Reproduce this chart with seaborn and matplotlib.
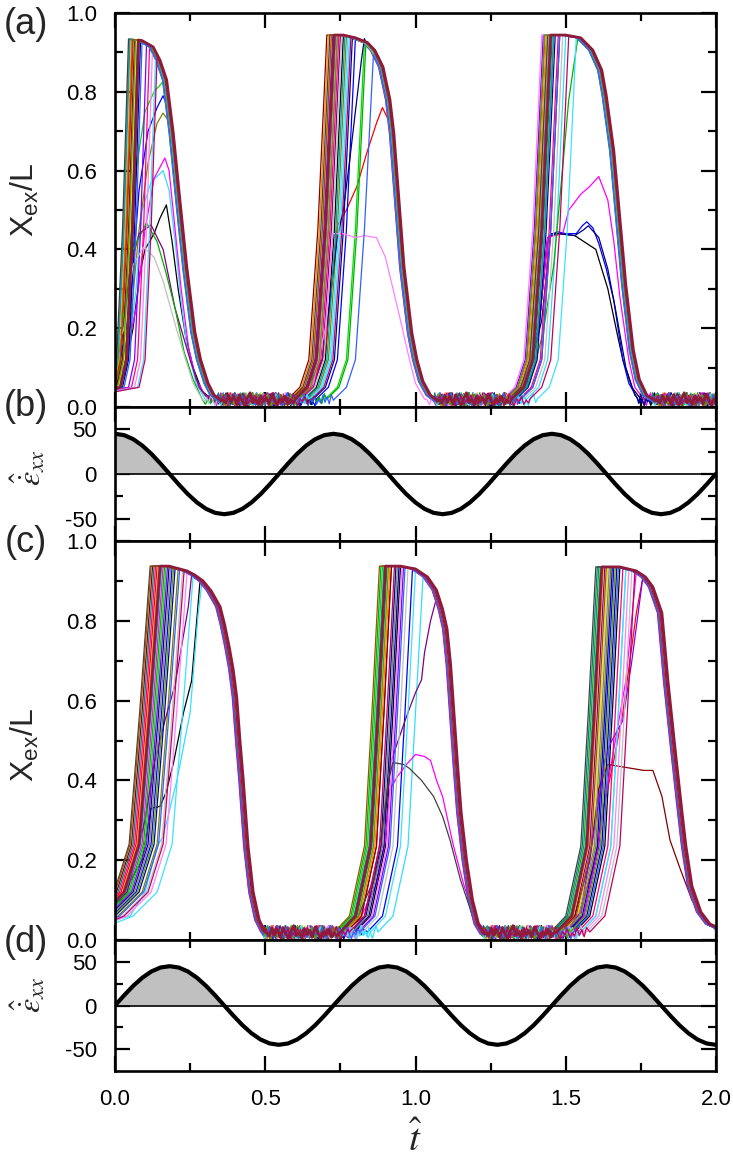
import numpy as np
import pandas as pd
import seaborn as sns
import matplotlib
matplotlib.use("Agg")
from matplotlib import pyplot as plt
from matplotlib import ticker as tkr

sns.set_theme(style="ticks")
plt.rcParams['font.family'] = ['Liberation Sans', 'DejaVu Sans']
plt.rcParams['mathtext.fontset'] = 'custom'
plt.rcParams['mathtext.rm'] = 'Liberation Sans'
plt.rcParams['mathtext.it'] = 'Liberation Sans:italic'
plt.rcParams['axes.unicode_minus'] = False

# ---------------- data ----------------
# line colours (Origin-like cycle), index 27 is the bold top curve
colors = ['#000000', '#FF0000', '#00DD00', '#0000FF', '#33DDFF', '#FF00FF', '#E0E000',
          '#808000', '#000080', '#800080', '#800000', '#00B000', '#008080', '#0000A0',
          '#FF8000', '#8000FF', '#FF0080', '#C0C0C0', '#808080', '#FF80FF', '#404040',
          '#00A0A0', '#40E0FF', '#A05000', '#60A000', '#3060FF', '#C00060', '#8E1B3A']

# panel (a): envelope (plateau + decay) of each cycle
a_env1_t = [0.045, 0.09, 0.127, 0.15, 0.172, 0.194, 0.216, 0.239, 0.266, 0.285, 0.31, 0.33, 0.355]
a_env1_x = [0.935, 0.93, 0.914, 0.88, 0.83, 0.695, 0.525, 0.355, 0.19, 0.12, 0.06, 0.03, 0.015]
a_env2_t = [0.70, 0.76, 0.80, 0.84, 0.865, 0.892, 0.915, 0.928, 0.945, 0.962, 0.988, 1.005, 1.025, 1.05, 1.075]
a_env2_x = [0.944, 0.944, 0.937, 0.925, 0.905, 0.863, 0.78, 0.695, 0.525, 0.355, 0.188, 0.12, 0.065, 0.03, 0.015]
a_env3_t = [1.42, 1.50, 1.55, 1.59, 1.62, 1.635, 1.66, 1.68, 1.70, 1.725, 1.745, 1.77, 1.80]
a_env3_x = [0.944, 0.944, 0.937, 0.906, 0.855, 0.79, 0.65, 0.48, 0.31, 0.145, 0.07, 0.03, 0.015]

# rise shape (offset before reaching plateau, value)
a_rise1_dt = [-0.2, -0.06, -0.04, -0.02, 0.0]
a_rise1_x = [0.03, 0.05, 0.12, 0.45]
a_rise_dt = [-0.13, -0.09, -0.06, -0.03, 0.0]
a_rise_x = [0.02, 0.05, 0.12, 0.45]

# time each curve reaches the plateau, per cycle
a_reach1 = [0.10, 0.06, 0.12, 0.11, 0.10, 0.09, 0.07, 0.12, 0.085, 0.11, 0.065, 0.095, 0.075, 0.08,
            0.055, 0.105, 0.115, 0.13, 0.048, 0.125, 0.045, 0.05, 0.135, 0.058, 0.068, 0.09, 0.14, 0.078]
a_reach2 = [0.76, 0.89, 0.83, 0.80, 0.78, 0.74, 0.72, 0.77, 0.83, 0.75, 0.705, 0.835, 0.73, 0.79,
            0.71, 0.725, 0.745, 0.755, 0.735, 0.70, 0.715, 0.765, 0.775, 0.72, 0.74, 0.86, 0.785, 0.73]
a_reach3 = [1.47, 1.45, 1.44, 1.47, 1.50, 1.47, 1.44, 1.46, 1.47, 1.48, 1.43, 1.54, 1.455, 1.465,
            1.435, 1.425, 1.475, 1.49, 1.445, 1.42, 1.44, 1.46, 1.535, 1.45, 1.43, 1.48, 1.51, 1.45]
a_fall_shift = [-0.008, -0.004, -0.012, 0.0, -0.006, -0.015, -0.002, -0.01, -0.005, -0.012, -0.003,
                -0.007, -0.014, -0.001, -0.009, -0.004, -0.011, -0.006, -0.013, -0.002, -0.008,
                -0.005, -0.01, -0.003, -0.007, -0.012, -0.004, 0.0]

# panel (a) curves that do not follow the envelope
a1_black_t = [-0.05, 0.03, 0.06, 0.083, 0.10, 0.13, 0.15, 0.171, 0.19, 0.21, 0.235, 0.26, 0.29, 0.33]
a1_black_x = [0.03, 0.08, 0.20, 0.34, 0.40, 0.44, 0.48, 0.513, 0.42, 0.30, 0.18, 0.10, 0.04, 0.015]
a1_magenta_t = [-0.05, 0.03, 0.07, 0.10, 0.13, 0.166, 0.18, 0.20, 0.22, 0.245, 0.27, 0.30, 0.33]
a1_magenta_x = [0.03, 0.10, 0.25, 0.45, 0.58, 0.632, 0.60, 0.45, 0.30, 0.15, 0.07, 0.03, 0.015]
a1_cyan_t = [-0.05, 0.04, 0.07, 0.09, 0.12, 0.16, 0.18, 0.20, 0.22, 0.24, 0.27, 0.30]
a1_cyan_x = [0.03, 0.10, 0.30, 0.50, 0.57, 0.60, 0.55, 0.42, 0.27, 0.15, 0.06, 0.02]
a1_olive_t = [-0.05, 0.0, 0.05, 0.08, 0.11, 0.14, 0.16, 0.175, 0.194]
a1_olive_x = [0.03, 0.05, 0.20, 0.45, 0.62, 0.72, 0.746, 0.73, 0.68]
a1_blue_t = [-0.05, 0.0, 0.05, 0.08, 0.11, 0.14, 0.16, 0.175, 0.194]
a1_blue_x = [0.03, 0.05, 0.25, 0.55, 0.70, 0.76, 0.79, 0.76, 0.69]
a1_green_t = [-0.05, 0.0, 0.04, 0.07, 0.10, 0.13, 0.165, 0.172]
a1_green_x = [0.03, 0.06, 0.30, 0.60, 0.75, 0.80, 0.83, 0.82]
a1_purple_t = [-0.05, 0.02, 0.05, 0.08, 0.12, 0.16, 0.20, 0.25, 0.28, 0.31]
a1_purple_x = [0.04, 0.15, 0.35, 0.44, 0.462, 0.40, 0.25, 0.12, 0.05, 0.02]
a1_green2_t = [-0.05, 0.03, 0.06, 0.105, 0.14, 0.17, 0.20, 0.23, 0.26, 0.29]
a1_green2_x = [0.05, 0.20, 0.40, 0.467, 0.42, 0.34, 0.25, 0.14, 0.07, 0.02]
a1_gray_t = [-0.05, 0.03, 0.06, 0.095, 0.13, 0.16, 0.20, 0.235, 0.26, 0.29]
a1_gray_x = [0.04, 0.20, 0.36, 0.406, 0.38, 0.32, 0.21, 0.12, 0.06, 0.02]
a2_red_t = [0.60, 0.66, 0.70, 0.72, 0.74, 0.77, 0.805, 0.84, 0.87, 0.89, 0.915, 0.93]
a2_red_x = [0.02, 0.06, 0.14, 0.30, 0.46, 0.50, 0.56, 0.65, 0.72, 0.76, 0.72, 0.66]
a2_pink_t = [0.60, 0.66, 0.70, 0.725, 0.76, 0.80, 0.83, 0.87, 0.90, 0.925, 0.95, 0.98, 1.00, 1.03]
a2_pink_x = [0.02, 0.06, 0.20, 0.44, 0.44, 0.43, 0.435, 0.43, 0.38, 0.30, 0.22, 0.12, 0.06, 0.02]
a2_navy_t = [0.58, 0.64, 0.69, 0.715, 0.74, 0.76, 0.78, 0.80, 0.82, 0.83]
a2_navy_x = [0.02, 0.05, 0.12, 0.27, 0.43, 0.50, 0.62, 0.75, 0.88, 0.935]
a3_black_t = [1.30, 1.36, 1.41, 1.44, 1.47, 1.53, 1.56, 1.60, 1.64, 1.67, 1.69, 1.72, 1.75]
a3_black_x = [0.02, 0.06, 0.20, 0.43, 0.44, 0.435, 0.42, 0.40, 0.30, 0.19, 0.12, 0.05, 0.02]
a3_blue_t = [1.30, 1.36, 1.41, 1.44, 1.47, 1.50, 1.535, 1.555, 1.57, 1.59, 1.61, 1.635, 1.66, 1.69, 1.71, 1.74]
a3_blue_x = [0.02, 0.06, 0.20, 0.43, 0.445, 0.44, 0.44, 0.46, 0.47, 0.455, 0.415, 0.35, 0.27, 0.12, 0.06, 0.02]
a3_navy_t = [1.31, 1.37, 1.42, 1.45, 1.48, 1.53, 1.56, 1.575, 1.61, 1.64, 1.665, 1.70, 1.73]
a3_navy_x = [0.02, 0.06, 0.22, 0.44, 0.44, 0.435, 0.45, 0.46, 0.43, 0.35, 0.25, 0.10, 0.03]
a3_magenta_t = [1.30, 1.36, 1.41, 1.44, 1.49, 1.51, 1.55, 1.58, 1.61, 1.64, 1.66, 1.68, 1.71, 1.73, 1.76]
a3_magenta_x = [0.02, 0.06, 0.20, 0.43, 0.44, 0.50, 0.54, 0.56, 0.585, 0.525, 0.42, 0.28, 0.12, 0.05, 0.02]
a3_green_t = [1.33, 1.38, 1.425, 1.46, 1.49, 1.51, 1.54]
a3_green_x = [0.02, 0.06, 0.19, 0.36, 0.61, 0.78, 0.935]

# panel (c)
c_env1_t = [0.117, 0.18, 0.24, 0.265, 0.293, 0.32, 0.35, 0.365, 0.38, 0.393, 0.405, 0.416, 0.427,
            0.443, 0.46, 0.48, 0.50]
c_env1_x = [0.937, 0.937, 0.925, 0.915, 0.90, 0.875, 0.835, 0.79, 0.735, 0.68, 0.61, 0.50, 0.40,
            0.235, 0.12, 0.05, 0.02]
c_env2_t = [0.88, 0.95, 1.0, 1.04, 1.07, 1.09, 1.105, 1.117, 1.128, 1.14, 1.152, 1.17, 1.19, 1.21, 1.23]
c_env2_x = [0.937, 0.937, 0.93, 0.91, 0.877, 0.83, 0.78, 0.69, 0.57, 0.44, 0.32, 0.20, 0.10, 0.04, 0.015]
c_env3_t = [1.60, 1.68, 1.735, 1.765, 1.79, 1.82, 1.84, 1.863, 1.887, 1.90, 1.92, 1.95, 1.98, 2.01]
c_env3_x = [0.935, 0.935, 0.925, 0.91, 0.885, 0.82, 0.65, 0.485, 0.32, 0.235, 0.135, 0.07, 0.04, 0.03]

c_rise1_dt = [-0.3, -0.2, -0.12, -0.07, -0.035, 0.0]
c_rise1_x = [0.03, 0.06, 0.12, 0.24, 0.57]
c_rise_dt = [-0.15, -0.10, -0.05, -0.025, 0.0]
c_rise_x = [0.02, 0.06, 0.235, 0.57]

c_reach1 = [0.20, 0.14, 0.17, 0.19, 0.29, 0.16, 0.15, 0.21, 0.18, 0.255, 0.125, 0.165, 0.13, 0.20,
            0.145, 0.175, 0.135, 0.225, 0.185, 0.24, 0.117, 0.155, 0.26, 0.12, 0.195, 0.215, 0.23, 0.15]
c_reach2 = [0.95, 0.92, 0.89, 0.99, 1.025, 0.93, 0.91, 0.90, 0.935, 1.07, 0.92, 0.885, 0.905, 0.945,
            0.915, 0.96, 0.90, 0.975, 0.94, 0.955, 0.925, 0.895, 1.0, 0.88, 0.91, 0.965, 0.93, 0.90]
c_reach3 = [1.68, 1.757, 1.62, 1.66, 1.70, 1.735, 1.64, 1.65, 1.67, 1.63, 1.64, 1.61, 1.605, 1.655,
            1.625, 1.755, 1.69, 1.72, 1.645, 1.71, 1.60, 1.615, 1.70, 1.635, 1.665, 1.675, 1.73, 1.62]
c_fall_shift = [-0.006, -0.011, -0.003, -0.009, -0.014, -0.002, -0.008, -0.012, -0.005, -0.01,
                -0.001, -0.013, -0.007, -0.004, -0.011, -0.006, -0.015, -0.003, -0.009, -0.005,
                -0.012, -0.002, -0.008, -0.01, -0.004, -0.013, -0.006, 0.0]

c1_cyan_t = [-0.05, 0.05, 0.10, 0.14, 0.16, 0.206, 0.25, 0.277, 0.29]
c1_cyan_x = [0.04, 0.06, 0.12, 0.235, 0.26, 0.40, 0.57, 0.82, 0.90]
c1_black_t = [-0.05, 0.03, 0.09, 0.12, 0.15, 0.17, 0.195, 0.228, 0.255, 0.283]
c1_black_x = [0.06, 0.12, 0.20, 0.33, 0.335, 0.37, 0.445, 0.57, 0.65, 0.90]
c1_purple_t = [-0.05, 0.04, 0.10, 0.13, 0.14, 0.166, 0.20, 0.244, 0.255]
c1_purple_x = [0.05, 0.12, 0.30, 0.44, 0.47, 0.55, 0.64, 0.835, 0.915]
c2_gray_t = [0.74, 0.81, 0.86, 0.89, 0.91, 0.925, 0.96, 0.98, 1.02, 1.06, 1.09, 1.115, 1.15, 1.19, 1.23]
c2_gray_x = [0.02, 0.06, 0.15, 0.28, 0.40, 0.445, 0.44, 0.43, 0.40, 0.36, 0.31, 0.25, 0.15, 0.06, 0.02]
c2_magenta_t = [0.75, 0.82, 0.87, 0.90, 0.915, 0.94, 0.97, 1.0, 1.03, 1.05, 1.07, 1.09, 1.125, 1.16, 1.20, 1.24]
c2_magenta_x = [0.02, 0.06, 0.14, 0.25, 0.377, 0.41, 0.44, 0.465, 0.46, 0.45, 0.40, 0.36, 0.24, 0.14, 0.05, 0.02]
c2_purple_t = [0.76, 0.83, 0.88, 0.92, 0.94, 0.97, 1.0, 1.02, 1.03, 1.05, 1.07]
c2_purple_x = [0.02, 0.06, 0.20, 0.45, 0.495, 0.56, 0.62, 0.652, 0.72, 0.80, 0.857]
c3_maroon_t = [1.47, 1.53, 1.58, 1.61, 1.64, 1.68, 1.72, 1.76, 1.79, 1.82, 1.847, 1.88, 1.92, 1.96, 2.01]
c3_maroon_x = [0.02, 0.06, 0.20, 0.38, 0.44, 0.435, 0.43, 0.425, 0.425, 0.36, 0.25, 0.18, 0.10, 0.05, 0.02]
c3_red_t = [1.48, 1.54, 1.60, 1.625, 1.66, 1.69, 1.735, 1.757]
c3_red_x = [0.02, 0.06, 0.20, 0.33, 0.45, 0.57, 0.82, 0.91]
c3_violet_t = [1.50, 1.55, 1.60, 1.63, 1.65, 1.69, 1.72, 1.755]
c3_violet_x = [0.02, 0.07, 0.30, 0.45, 0.495, 0.55, 0.70, 0.90]
c3_magenta_t = [1.50, 1.56, 1.60, 1.63, 1.70, 1.735]
c3_magenta_x = [0.02, 0.06, 0.20, 0.35, 0.65, 0.925]

# fluctuation level of the near-zero stretches between cycles
trough_noise = [0.012, 0.026, 0.008, 0.031, 0.017, 0.004, 0.022, 0.036, 0.011, 0.019, 0.006,
                0.028, 0.014, 0.024, 0.009, 0.033, 0.016, 0.003, 0.021, 0.013, 0.027, 0.007,
                0.018, 0.010, 0.030]

# strain rate: one period sampled every 1/24 period
rate_period = 0.727
rate_cycle = [45.0, 43.5, 39.0, 31.8, 22.5, 11.6, 0.0, -11.6, -22.5, -31.8, -39.0, -43.5,
              -45.0, -43.5, -39.0, -31.8, -22.5, -11.6, 0.0, 11.6, 22.5, 31.8, 39.0, 43.5]


# ---------------- assemble curves ----------------
def trough(i, t_from, t_to):
    step = 0.006 + 0.001 * (i % 4)
    gap = np.arange(t_from + step * (0.5 + (i % 3) / 3), t_to - 0.003, step)
    vals = [trough_noise[(i * 11 + j) % len(trough_noise)] for j in range(len(gap))]
    return list(gap), vals


def build_panel(envs, rises, reaches, shifts, full, merge, t_end):
    rows = []
    for i in range(len(colors)):
        ts, xs = [], []
        for k in range(3):
            env_t = [t + shifts[i] for t in envs[k][0]]
            env_x = envs[k][1]
            if (i, k) in full:
                st, sx = full[(i, k)]
                st, sx = list(st), list(sx)
            else:
                if (i, k) in merge:
                    st, sx = merge[(i, k)]
                    st, sx = list(st), list(sx)
                else:
                    r = reaches[k][i]
                    dts, rx = rises[k]
                    st = [r + d for d in dts]
                    sx = list(rx) + [float(np.interp(r, env_t, env_x))]
                for t, x in zip(env_t, env_x):
                    if t > st[-1] + 1e-4:
                        st.append(t)
                        sx.append(x)
            if ts:
                gt, gx = trough(i, ts[-1], st[0])
                ts += gt
                xs += gx
            ts += st
            xs += sx
        gt, gx = trough(i, ts[-1], t_end)
        ts += gt
        xs += gx
        rows.append(pd.DataFrame({'t': ts, 'x': xs, 'curve': 'c%02d' % i}))
    return pd.concat(rows, ignore_index=True)


df_a = build_panel(
    [(a_env1_t, a_env1_x), (a_env2_t, a_env2_x), (a_env3_t, a_env3_x)],
    [(a_rise1_dt, a_rise1_x), (a_rise_dt, a_rise_x), (a_rise_dt, a_rise_x)],
    [a_reach1, a_reach2, a_reach3], a_fall_shift,
    {(0, 0): (a1_black_t, a1_black_x), (5, 0): (a1_magenta_t, a1_magenta_x),
     (4, 0): (a1_cyan_t, a1_cyan_x), (9, 0): (a1_purple_t, a1_purple_x),
     (11, 0): (a1_green2_t, a1_green2_x), (17, 0): (a1_gray_t, a1_gray_x),
     (19, 1): (a2_pink_t, a2_pink_x), (0, 2): (a3_black_t, a3_black_x),
     (3, 2): (a3_blue_t, a3_blue_x), (8, 2): (a3_navy_t, a3_navy_x),
     (5, 2): (a3_magenta_t, a3_magenta_x)},
    {(7, 0): (a1_olive_t, a1_olive_x), (3, 0): (a1_blue_t, a1_blue_x),
     (2, 0): (a1_green_t, a1_green_x), (1, 1): (a2_red_t, a2_red_x),
     (8, 1): (a2_navy_t, a2_navy_x), (11, 2): (a3_green_t, a3_green_x)},
    2.02)

df_c = build_panel(
    [(c_env1_t, c_env1_x), (c_env2_t, c_env2_x), (c_env3_t, c_env3_x)],
    [(c_rise1_dt, c_rise1_x), (c_rise_dt, c_rise_x), (c_rise_dt, c_rise_x)],
    [c_reach1, c_reach2, c_reach3], c_fall_shift,
    {(20, 1): (c2_gray_t, c2_gray_x), (5, 1): (c2_magenta_t, c2_magenta_x),
     (10, 2): (c3_maroon_t, c3_maroon_x)},
    {(4, 0): (c1_cyan_t, c1_cyan_x), (0, 0): (c1_black_t, c1_black_x),
     (9, 0): (c1_purple_t, c1_purple_x), (9, 1): (c2_purple_t, c2_purple_x),
     (1, 2): (c3_red_t, c3_red_x), (15, 2): (c3_violet_t, c3_violet_x),
     (5, 2): (c3_magenta_t, c3_magenta_x)},
    2.02)

n_rate = int(round(2.0 / (rate_period / 24))) + 1
rate_t = [k * rate_period / 24 for k in range(n_rate)]
df_b = pd.DataFrame({'t': rate_t, 'r': [rate_cycle[k % 24] for k in range(n_rate)]})
df_d = pd.DataFrame({'t': rate_t, 'r': [rate_cycle[(k + 18) % 24] for k in range(n_rate)]})

# ---------------- figure ----------------
W, H = 733, 1163
fig = plt.figure(figsize=(W / 100, H / 100), dpi=100)
left, width = 115 / W, 601 / W
ax_a = fig.add_axes([left, 1 - 407 / H, width, 394 / H])
ax_b = fig.add_axes([left, 1 - 541 / H, width, 134 / H])
ax_c = fig.add_axes([left, 1 - 940 / H, width, 399 / H])
ax_d = fig.add_axes([left, 1 - 1071 / H, width, 131 / H])

pal = {'c%02d' % i: c for i, c in enumerate(colors)}
order = ['c%02d' % i for i in range(len(colors) - 1)]
for ax, df in [(ax_a, df_a), (ax_c, df_c)]:
    sns.lineplot(data=df[df.curve != 'c27'], x='t', y='x', hue='curve', hue_order=order,
                 palette=pal, estimator=None, sort=False, lw=0.9, legend=False, ax=ax)
    top = df[df.curve == 'c27']
    sns.lineplot(x=top.t.values, y=top.x.values, color=colors[-1], estimator=None,
                 sort=False, lw=2.0, ax=ax)
    ax.set_ylim(0, 1.0)
    ax.yaxis.set_major_locator(tkr.MultipleLocator(0.2))
    ax.yaxis.set_minor_locator(tkr.MultipleLocator(0.1))
    ax.yaxis.set_major_formatter(tkr.FormatStrFormatter('%.1f'))

for ax, df in [(ax_b, df_b), (ax_d, df_d)]:
    r = df.r.values
    ax.fill_between(df.t.values, 0, r, where=r >= 0, interpolate=True, color='#C0C0C0', lw=0)
    ax.axhline(0, color='black', lw=1.2)
    sns.lineplot(data=df, x='t', y='r', color='black', lw=3.0, estimator=None, sort=False, ax=ax)
    ax.set_ylim(-75, 75)
    ax.yaxis.set_major_locator(tkr.FixedLocator([-50, 0, 50]))
    ax.yaxis.set_minor_locator(tkr.FixedLocator([-25, 25]))
    ax.yaxis.set_major_formatter(tkr.FormatStrFormatter('%d'))

for ax in [ax_a, ax_b, ax_c, ax_d]:
    ax.set_xlim(0, 2.0)
    ax.xaxis.set_major_locator(tkr.MultipleLocator(0.5))
    ax.xaxis.set_minor_locator(tkr.MultipleLocator(0.25))
    ax.xaxis.set_major_formatter(tkr.FormatStrFormatter('%.1f'))
    ax.set_xlabel('')
    ax.set_ylabel('')
    for s in ax.spines.values():
        s.set_linewidth(1.9)
        s.set_color('black')
        s.set_visible(True)
    ax.tick_params(which='both', direction='in', top=True, right=True, width=1.6,
                   color='black', labelsize=16, labelcolor='black')
    ax.tick_params(which='major', length=11)
    ax.tick_params(which='minor', length=6)
    ax.tick_params(axis='y', pad=13)
    ax.tick_params(axis='x', pad=13)
    if ax is not ax_d:
        ax.tick_params(axis='x', labelbottom=False)

# panel letters and axis titles
for lab, yc in [('(a)', 25), ('(b)', 407), ('(c)', 542), ('(d)', 942)]:
    fig.text(26 / W, 1 - yc / H, lab, fontsize=26, ha='center', va='center')
for yc in [200, 745]:
    fig.text(25 / W, 1 - yc / H, r'X$_{\rm ex}$/L', fontsize=23, rotation=90,
             ha='center', va='center')
for yc in [468, 995]:
    fig.text(28 / W, 1 - yc / H, r'$\hat{\dot{\varepsilon}}_{xx}$', fontsize=23, rotation=90,
             ha='center', va='center', math_fontfamily='stix')
fig.text(415 / W, 1 - 1140 / H, r'$\hat{t}$', fontsize=28, ha='center', va='center',
         math_fontfamily='stix')

fig.savefig('out.png', dpi=100)
